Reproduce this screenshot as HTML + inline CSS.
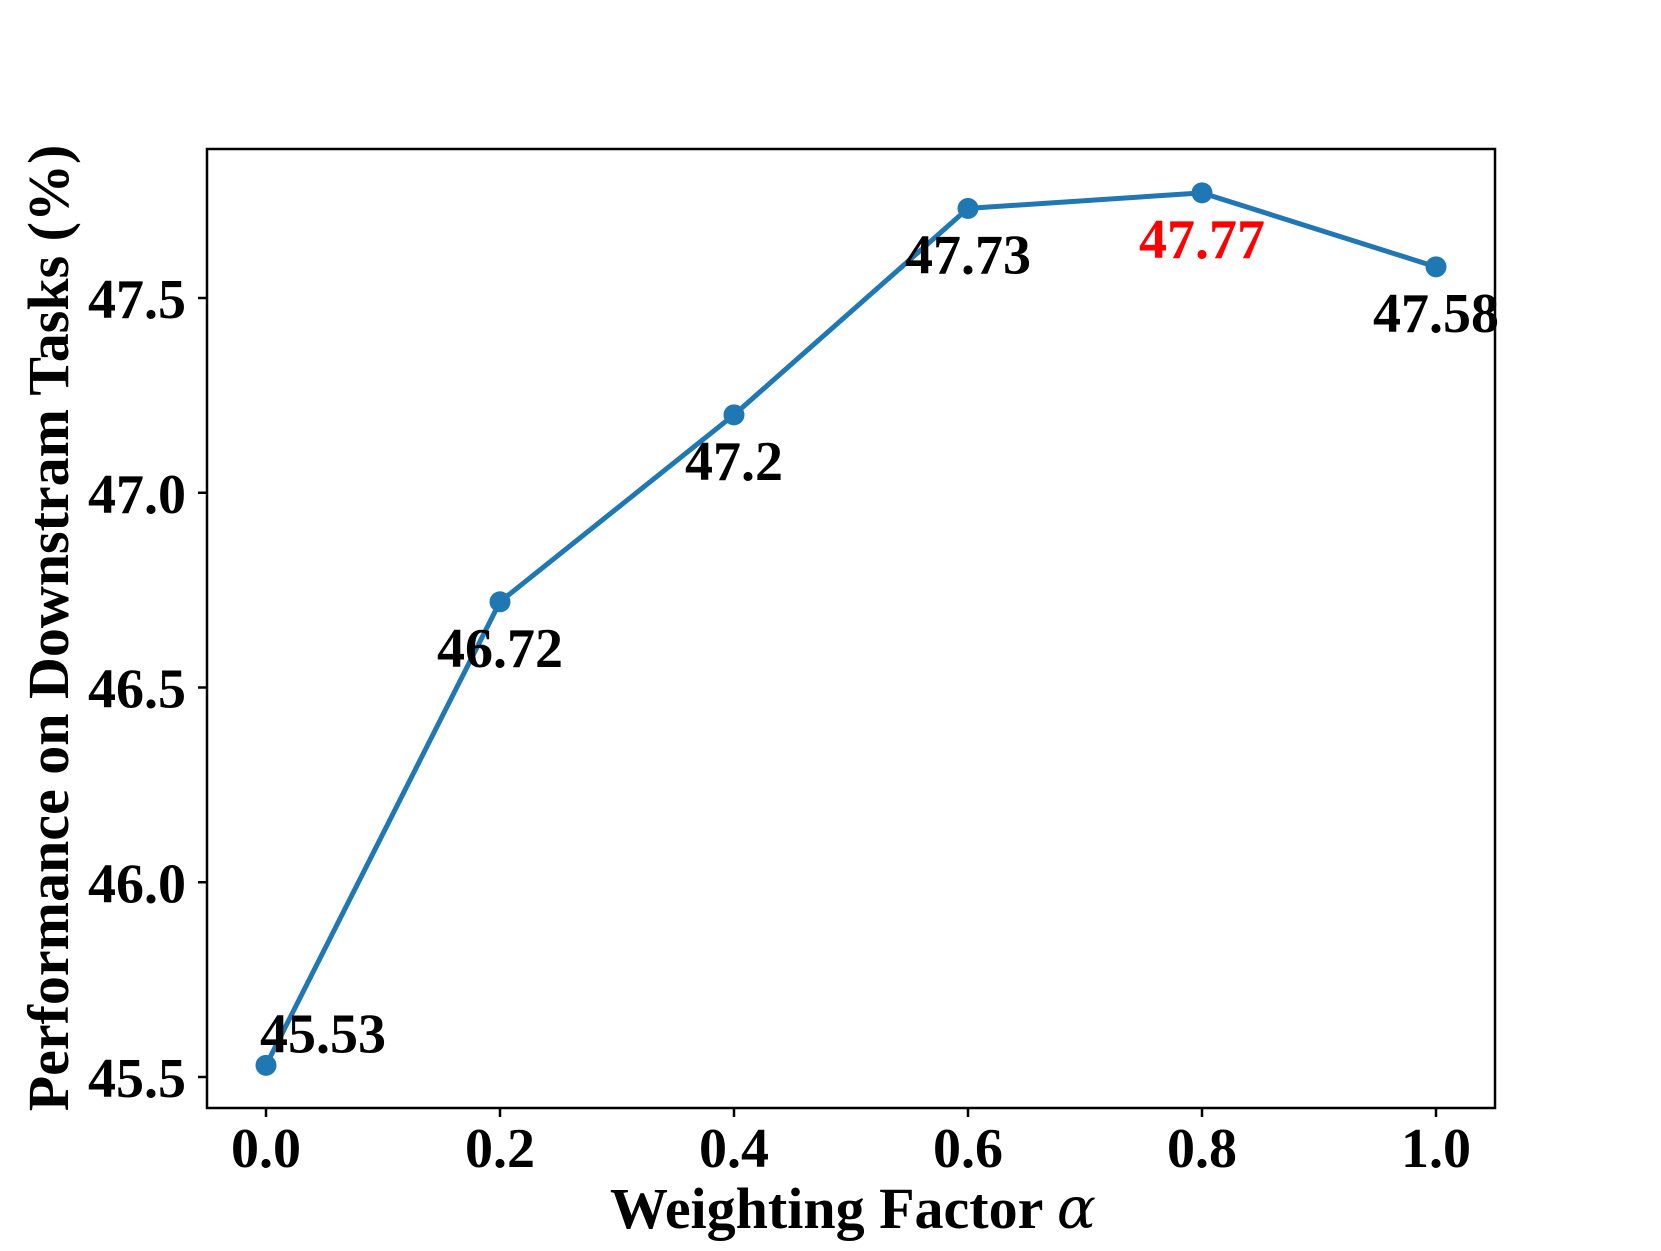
<!DOCTYPE html>
<html><head><meta charset="utf-8"><style>
html,body{margin:0;padding:0;background:#fff;}
svg text{font-family:"Liberation Serif",serif;font-weight:bold;}
</style></head><body>
<svg id="chart" width="1661" height="1246" viewBox="0 0 1661 1246" xmlns="http://www.w3.org/2000/svg">
<rect x="0" y="0" width="1661" height="1246" fill="#fff"/>
<g id="marks"></g>
<rect x="207" y="149" width="1288" height="959" fill="none" stroke="#000" stroke-width="2.5"/>
<g id="axes"></g>
<text x="853" y="1228" font-size="58" text-anchor="middle">Weighting Factor <tspan font-style="italic" font-weight="normal" font-family="DejaVu Serif, serif">α</tspan></text>
<text transform="translate(68,628) rotate(-90)" font-size="58" text-anchor="middle">Performance on Downstram Tasks (%)</text>
</svg>
<script>
const xValues = [0.0, 0.2, 0.4, 0.6, 0.8, 1.0];
const yValues = [45.53, 46.72, 47.2, 47.73, 47.77, 47.58];
const pointLabels = ["45.53", "46.72", "47.2", "47.73", "47.77", "47.58"];
const xTicks = [0.0, 0.2, 0.4, 0.6, 0.8, 1.0];
const xTickLabels = ["0.0", "0.2", "0.4", "0.6", "0.8", "1.0"];
const yTicks = [45.5, 46.0, 46.5, 47.0, 47.5];
const yTickLabels = ["45.5", "46.0", "46.5", "47.0", "47.5"];
const bestIndex = 4;

const NS = "http://www.w3.org/2000/svg";
function sx(v){ return 266 + (v - 0) * (1170 / 1.0); }
function sy(v){ return 1077 - (v - 45.5) * (779 / 2.0); }
function mk(tag, attrs){ const e = document.createElementNS(NS, tag); for (const k in attrs) e.setAttribute(k, attrs[k]); return e; }

const axes = document.getElementById('axes');
xTicks.forEach((t, i) => {
  const tk = mk('line', {x1: sx(t), x2: sx(t), y1: 1108, y2: 1117, stroke: '#000', 'stroke-width': 2.5});
  
  
  axes.appendChild(tk);
  const lb = mk('text', {x: sx(t), y: 1167, 'font-size': 56, 'text-anchor': 'middle'});
  lb.textContent = xTickLabels[i];
  
  
  axes.appendChild(lb);
});
yTicks.forEach((t, i) => {
  const tk = mk('line', {x1: 198, x2: 207, y1: sy(t), y2: sy(t), stroke: '#000', 'stroke-width': 2.5});
  
  
  axes.appendChild(tk);
  const lb = mk('text', {x: 186, y: sy(t) + 20, 'font-size': 56, 'text-anchor': 'end'});
  lb.textContent = yTickLabels[i];
  
  
  axes.appendChild(lb);
});

const marks = document.getElementById('marks');
const pts = xValues.map((x, i) => sx(x) + ',' + sy(yValues[i])).join(' ');
const line = mk('polyline', {points: pts, fill: 'none', stroke: '#1f77b4', 'stroke-width': 5, 'stroke-linejoin': 'round'});


marks.appendChild(line);
xValues.forEach((x, i) => {
  const c = mk('circle', {cx: sx(x), cy: sy(yValues[i]), r: 10.5, fill: '#1f77b4'});
  
  
  marks.appendChild(c);
});
xValues.forEach((x, i) => {
  let tx = sx(x), ty = sy(yValues[i]) + 65;
  if (i === 0) { tx = sx(x) + 57; ty = sy(yValues[i]) - 13; }
  const t = mk('text', {x: tx, y: ty, 'font-size': 56, 'text-anchor': 'middle', fill: i === bestIndex ? '#ff0000' : '#000'});
  t.textContent = pointLabels[i];
  
  
  document.getElementById('chart').appendChild(t);
});
</script>
</body></html>
